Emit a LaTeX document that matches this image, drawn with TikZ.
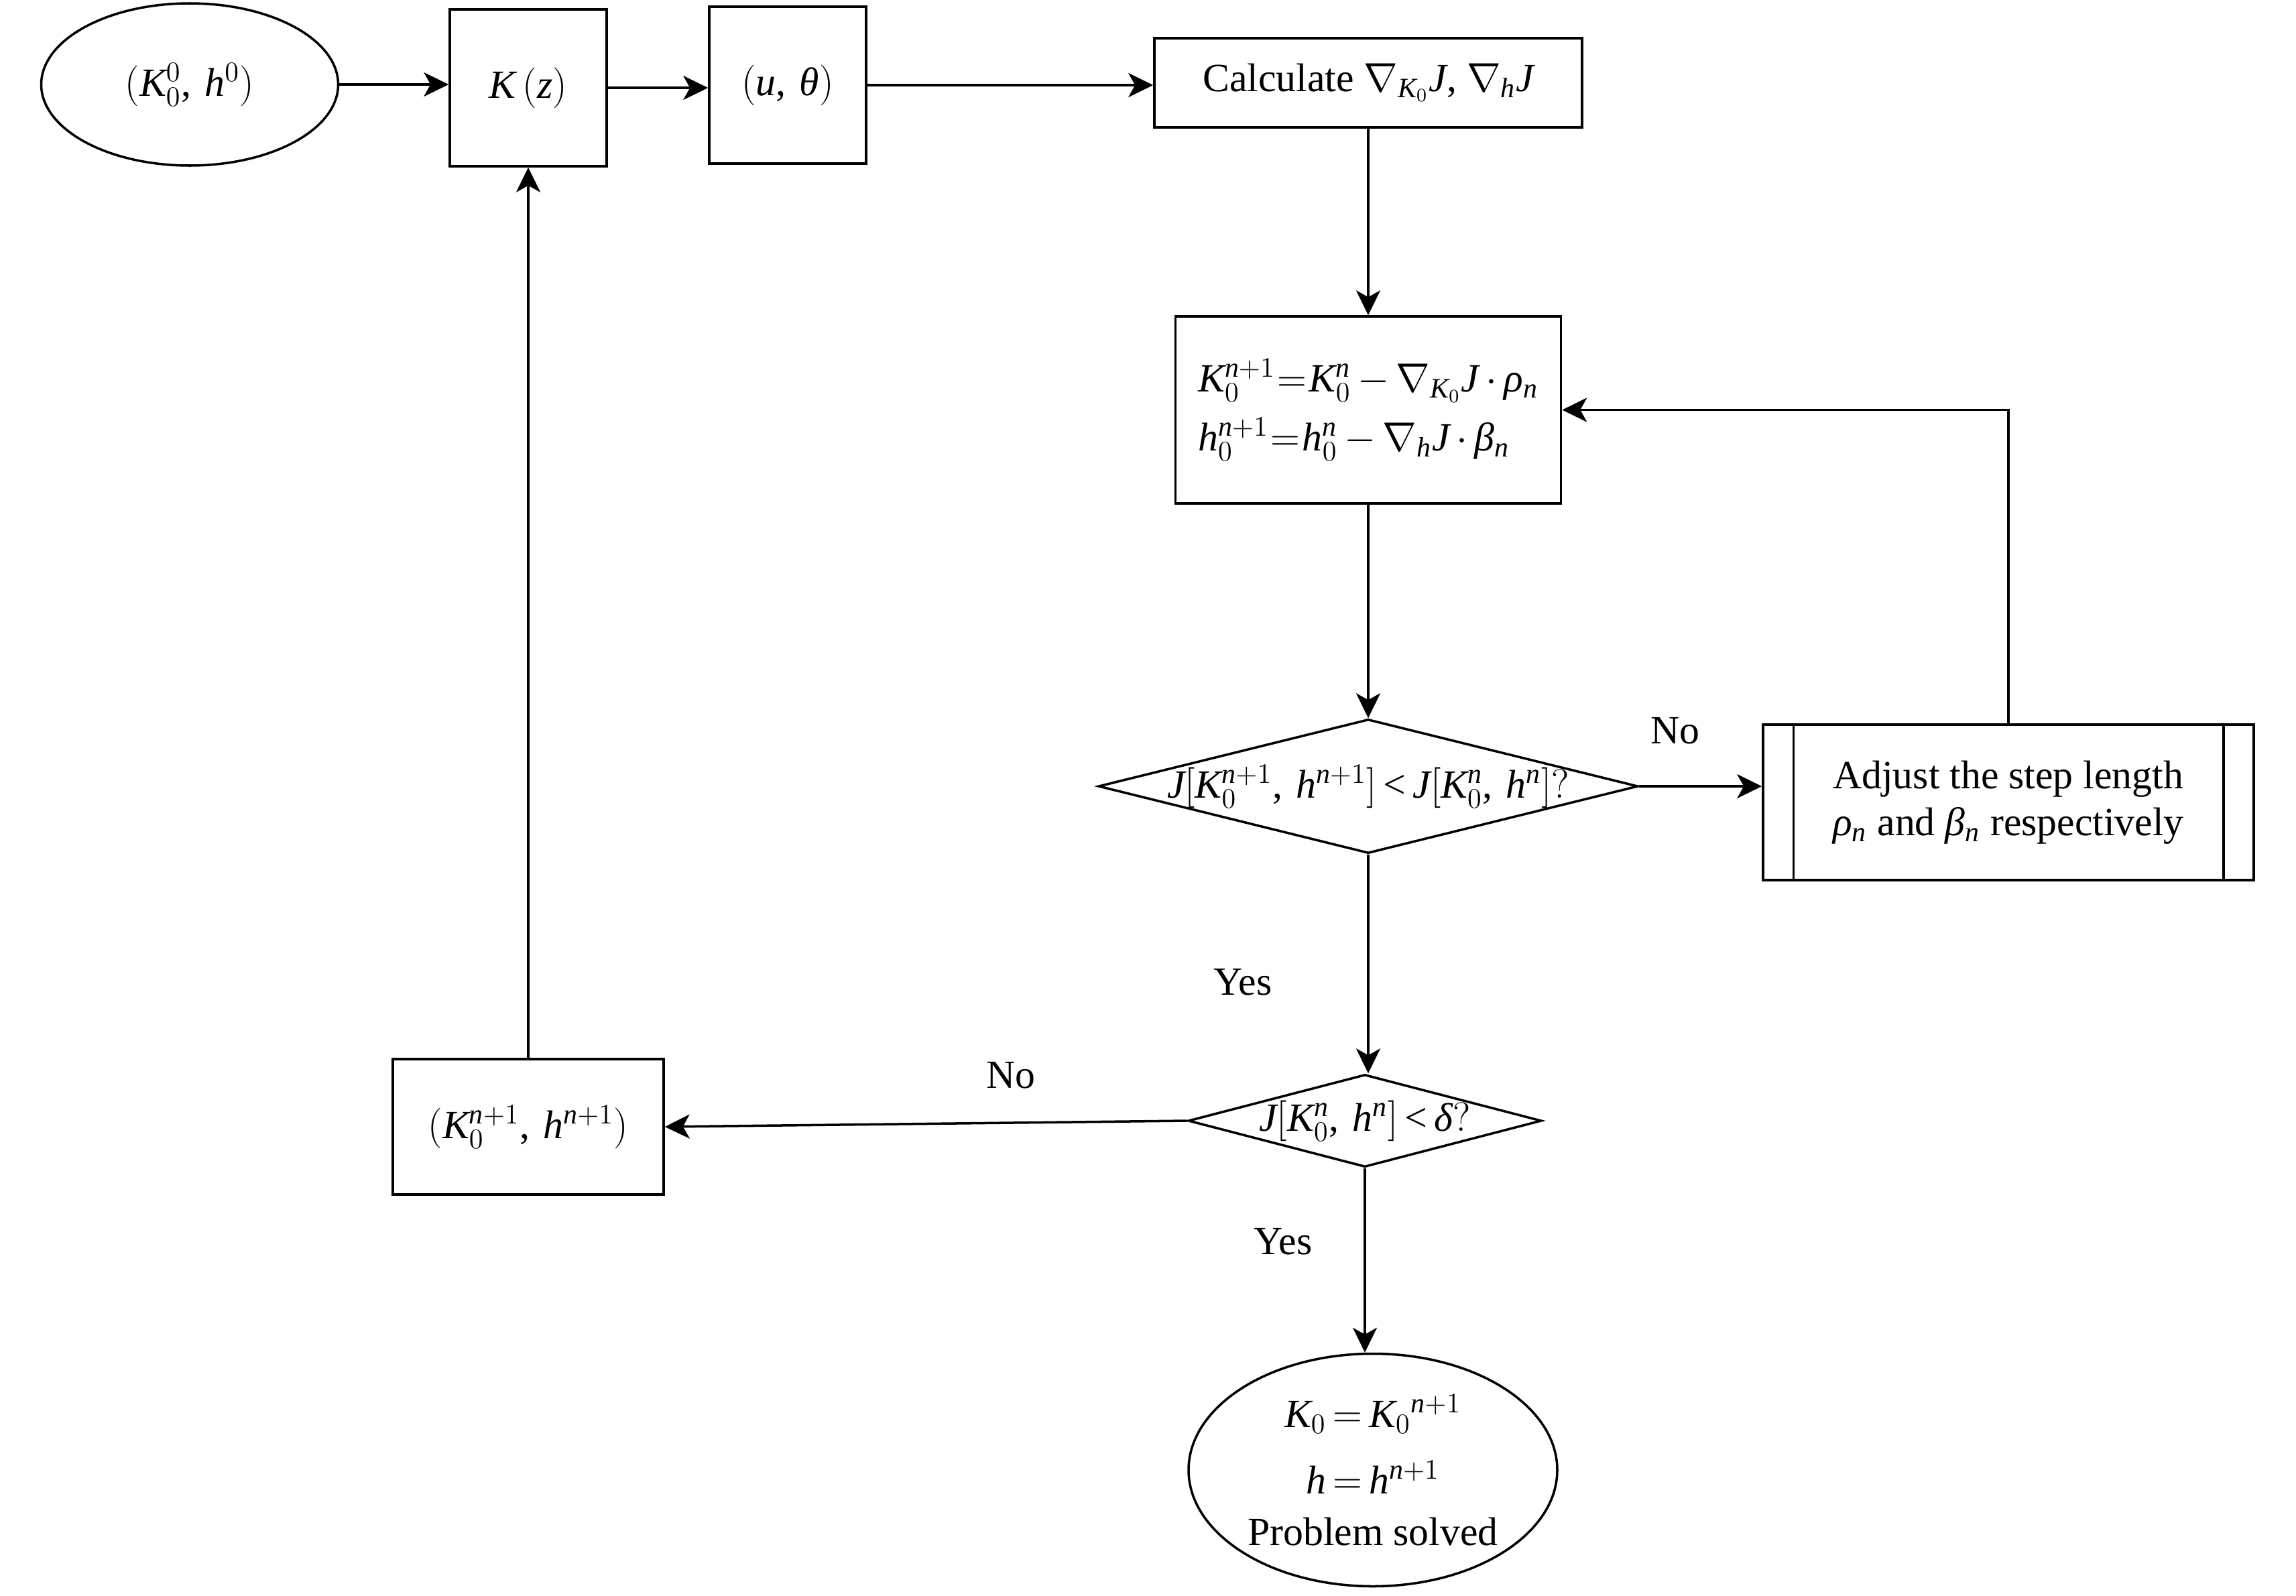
\documentclass[tikz,border=0pt]{standalone}
\usepackage{fontspec}
\setmainfont{Liberation Serif}
% Times-like letters and digits in math
\DeclareSymbolFont{lettersit}{TU}{\rmdefault}{m}{it}
\DeclareSymbolFont{digitsup}{TU}{\rmdefault}{m}{n}
\newcount\glyphcnt
\glyphcnt=`a
\loop
    \Umathcode\glyphcnt=0 \symlettersit\glyphcnt
    \advance\glyphcnt by 1
\ifnum\glyphcnt<123 \repeat
\glyphcnt=`A
\loop
    \Umathcode\glyphcnt=0 \symlettersit\glyphcnt
    \advance\glyphcnt by 1
\ifnum\glyphcnt<91 \repeat
\glyphcnt=`0
\loop
    \Umathcode\glyphcnt=0 \symdigitsup\glyphcnt
    \advance\glyphcnt by 1
\ifnum\glyphcnt<58 \repeat
\Umathcode`(=4 \symdigitsup`(
\Umathcode`)=5 \symdigitsup`)
\Umathcode`[=4 \symdigitsup`[
\Umathcode`]=5 \symdigitsup`]
\Umathcode`,=6 \symdigitsup`,
\Umathcode`?=5 \symdigitsup`?
\Umathcode`+=2 \symdigitsup`+
\Umathcode`==3 \symdigitsup`=
\Umathcode`<=3 \symdigitsup`<
\Umathchardef\theta=0 \symlettersit "03B8
\Umathchardef\rho=0 \symlettersit "03C1
\Umathchardef\beta=0 \symlettersit "03B2
\Umathchardef\delta=0 \symlettersit "03B4
\usetikzlibrary{shapes.geometric,arrows.meta}
\tikzset{
    base/.style={draw, line width=1pt, inner sep=0pt, align=center},
    terminal/.style={base, ellipse},
    block/.style={base, rectangle},
    decision/.style={base, diamond},
    link/.style={line width=1pt, -{Stealth[length=3.7mm,width=3.6mm,inset=1mm]}},
}
\begin{document}
\begin{tikzpicture}[font=\fontsize{17}{20}\selectfont]
    \thickmuskip=3mu \medmuskip=3mu
    \useasboundingbox (0,0) rectangle (34.25,-23.81);
    % top row
    \node[terminal, minimum width=4.43cm, minimum height=2.42cm] (init) at (2.83,-1.26) {$(K_0^0,\; h^0)$};
    \node[block, minimum width=2.34cm, minimum height=2.34cm] (kz) at (7.88,-1.31) {$K\,(z)$};
    \node[block, minimum width=2.34cm, minimum height=2.34cm] (ut) at (11.75,-1.27) {$(u,\; \theta)$};
    \node[block, minimum width=6.38cm, minimum height=1.33cm] (grad) at (20.41,-1.235) {Calculate $\nabla_{K_0}J$, $\nabla_h J$};
    % main column
    \node[block, align=left, minimum width=5.75cm, minimum height=2.79cm,
        execute at begin node={\thickmuskip=1mu}] (update) at (20.41,-6.115)
        {$K_0^{n+1} = K_0^n - \nabla_{K_0} J \cdot \rho_n$\\[5pt]
         $h_0^{n+1} = h_0^n - \nabla_h J \cdot \beta_n$};
    \node[decision, minimum width=8.05cm, minimum height=2.0cm,
        label=center:{$J[K_0^{n+1},\, h^{n+1}] < J[K_0^n,\, h^n]?$}] (test1) at (20.41,-11.73) {};
    \node[block, align=left, minimum width=7.32cm, minimum height=2.32cm] (adjust) at (29.96,-11.97)
        {Adjust the step length\\ $\rho_n$ and $\beta_n$ respectively};
    \draw[line width=1pt] ([xshift=0.47cm]adjust.north west) -- ([xshift=0.47cm]adjust.south west);
    \draw[line width=1pt] ([xshift=-0.47cm]adjust.north east) -- ([xshift=-0.47cm]adjust.south east);
    \node[decision, minimum width=5.27cm, minimum height=1.38cm,
        label=center:{$J[K_0^n,\, h^n] < \delta?$}] (test2) at (20.36,-16.72) {};
    \node[block, minimum width=4.04cm, minimum height=2.02cm] (knew) at (7.88,-16.81) {$(K_0^{n+1},\; h^{n+1})$};
    \node[terminal, minimum width=5.50cm, minimum height=3.47cm] (solved) at (20.48,-21.93)
        {${K_0} = {K_0}^{n+1}$\\[8pt] $h = h^{n+1}$\\[2pt] Problem solved};
    % answers
    \node (no1) at (24.99,-10.90) {No};
    \node (yes1) at (18.54,-14.65) {Yes};
    \node (no2) at (15.08,-16.04) {No};
    \node (yes2) at (19.14,-18.52) {Yes};
    % connectors
    \draw[link] (init.east) -- (init.east -| kz.west);
    \draw[link] (kz.east) -- (kz.east -| ut.west);
    \draw[link] (ut.east) -- (ut.east -| grad.west);
    \draw[link] (grad) -- (update);
    \draw[link] (update) -- (test1);
    \draw[link] (test1.east) -- (test1.east -| adjust.west);
    \draw[link] (adjust.north) |- (update.east);
    \draw[link] (test1.south) -- (test1.south |- test2.north);
    \draw[link] (test2.west) -- (knew.east);
    \draw[link] (test2.south) -- (test2.south |- solved.north);
    \draw[link] (knew) -- (kz);
\end{tikzpicture}
\end{document}
